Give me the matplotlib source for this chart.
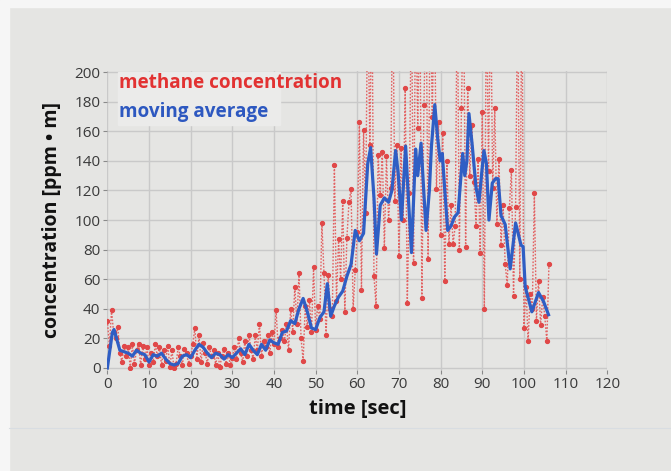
import numpy as np
import matplotlib
matplotlib.use("Agg")
import matplotlib.pyplot as plt
from matplotlib.patches import Rectangle

# raw methane readings, one every 0.5 s (values > 200 run off the top)
methane = [
    32, 15, 39, 24, 20, 28, 10, 4, 15, 8,
    14, 0, 16, 3, 12, 16, 2, 15, 6, 14,
    2, 10, 4, 16, 8, 14, 2, 12, 5, 15,
    1, 12, 0, 3, 14, 8, 2, 13, 10, 3,
    8, 16, 27, 6, 22, 4, 17, 10, 3, 14,
    8, 12, 2, 10, 1, 8, 13, 3, 10, 2,
    7, 14, 6, 20, 10, 4, 18, 8, 22, 12,
    6, 22, 12, 30, 8, 18, 14, 22, 10, 24,
    16, 39, 14, 20, 26, 18, 30, 12, 40, 24,
    55, 30, 64, 20, 5, 42, 28, 46, 24, 68,
    26, 42, 33, 98, 64, 22, 63, 40, 35, 137,
    45, 87, 60, 113, 38, 88, 112, 121, 40, 66,
    92, 166, 53, 161, 105, 260, 151, 260, 62, 42,
    144, 117, 146, 81, 143, 100, 122, 260, 113, 151,
    76, 149, 100, 189, 44, 118, 260, 71, 260, 162,
    260, 47, 178, 260, 74, 260, 170, 260, 121, 166,
    90, 159, 59, 140, 84, 110, 84, 96, 260, 80,
    176, 260, 82, 189, 130, 164, 126, 96, 141, 78,
    173, 40, 260, 133, 260, 122, 176, 97, 141, 83,
    110, 70, 56, 108, 134, 49, 109, 260, 60, 260,
    27, 55, 18, 50, 40, 118, 32, 59, 29, 48,
    35, 18, 70,
]
t_methane = np.arange(len(methane)) * 0.5

# moving average
avg_t = [0, 0.5, 1.2, 1.6, 2.2, 3, 4, 5, 6, 7, 8, 9, 10, 11, 12, 13, 14, 15, 16, 17,
         18, 19, 20, 21, 22, 23, 24, 25, 26, 27, 28, 29, 30, 31, 32, 33, 34, 35, 36, 37,
         38, 39, 40, 41, 42, 43, 44, 45, 46, 47, 48, 49, 50, 51, 52, 52.8, 53.6, 54.5, 55.5, 56.5,
         57.5, 58.5, 59.5, 60.5, 61.5, 62.5, 63.2, 64, 64.6, 65.5, 66.5, 67.5, 68.3, 69.2, 69.8, 70.6, 71.6, 72.2, 73, 74,
         74.5, 75.3, 75.9, 76.5, 77.3, 77.8, 78.6, 79.3, 79.9, 80.4, 81, 81.7, 82.5, 83.3, 84.2, 85.3, 85.8, 86.3, 86.8, 87.6,
         88.5, 89.2, 89.8, 90.4, 91, 91.6, 92.4, 93.2, 93.8, 94.5, 95.5, 96.7, 98, 99.3, 99.8, 100.3, 101.9, 103.5, 104.7, 105.9]
avg_v = [0, 10, 24, 26, 20, 12, 11, 10, 8, 12, 10, 9, 4, 9, 8, 10, 6, 3, 2, 3,
         8, 9, 7, 12, 16, 14, 10, 7, 10, 9, 6, 9, 7, 10, 13, 9, 16, 12, 9, 16,
         12, 19, 17, 16, 24, 25, 32, 30, 40, 47, 38, 27, 26, 34, 38, 57, 35, 42, 48, 52,
         62, 70, 93, 86, 91, 138, 149, 115, 77, 110, 115, 112, 120, 147, 132, 100, 150, 118, 78, 148,
         130, 152, 122, 93, 120, 150, 178, 155, 140, 145, 120, 93, 96, 102, 105, 145, 130, 140, 172, 150,
         122, 112, 130, 147, 138, 100, 125, 128, 128, 103, 97, 67, 98, 83, 82, 55, 38, 51, 45, 36]

xticks = list(range(0, 121, 10))
yticks = list(range(0, 201, 20))

bg = "#e5e5e3"
fig = plt.figure(figsize=(6.71, 4.71), dpi=100, facecolor=bg)
fig.patches.append(Rectangle((0, 0.985), 1, 0.015, transform=fig.transFigure, color="#f6f6f6", zorder=0))
fig.patches.append(Rectangle((0, 0), 0.013, 1, transform=fig.transFigure, color="#f6f6f6", zorder=0))
fig.lines.append(plt.Line2D([0.013, 1], [1 - 428 / 471] * 2, transform=fig.transFigure,
                            color="#d8dde2", linewidth=0.8))

ax = fig.add_axes([0.160, 0.214, 0.745, 0.636])
ax.set_facecolor(bg)
ax.set_xlim(0, 120)
ax.set_ylim(-1.5, 201)

ax.plot(t_methane, methane, linestyle=(0, (1.2, 1.2)), color="#e26262", linewidth=1.0,
        marker="o", markersize=2.8, markerfacecolor="#e04848", markeredgecolor="#e04848", zorder=2)
ax.plot(avg_t, avg_v, color="#2f5ec4", linewidth=2.3, zorder=3)

ax.set_xticks(xticks)
ax.set_yticks(yticks)
ax.grid(True, color="#c9c9c9", linewidth=1.0)
ax.set_axisbelow(True)
for s in ax.spines.values():
    s.set_visible(False)
ax.tick_params(axis="both", colors="#8a8a8a", labelcolor="#3a3a3a", length=3, width=0.8,
               labelsize=11, pad=2)
for lab in ax.get_xticklabels() + ax.get_yticklabels():
    lab.set_fontfamily("Open Sans")

ax.set_xlabel("time [sec]", fontsize=14.5, fontweight="bold", family="Open Sans", color="#111111", labelpad=5)
ax.set_ylabel("concentration [ppm \u2022 m]", fontsize=14, fontweight="bold", family="Open Sans",
              color="#111111", labelpad=9)

# text-only legend on a lighter box
fig.patches.append(Rectangle((118 / 671, 1 - 125 / 471), 162 / 671, 53 / 471, transform=fig.transFigure,
                             color="#ebebea", zorder=1))
fig.text(119 / 671, 1 - 83 / 471, "methane concentration", color="#e23232", fontsize=13.6,
         fontweight="bold", family="Open Sans", va="center", ha="left", zorder=5)
fig.text(119 / 671, 1 - 112 / 471, "moving average", color="#2d58c0", fontsize=13.6,
         fontweight="bold", family="Open Sans", va="center", ha="left", zorder=5)

fig.savefig("out.png", dpi=100, facecolor=bg)
